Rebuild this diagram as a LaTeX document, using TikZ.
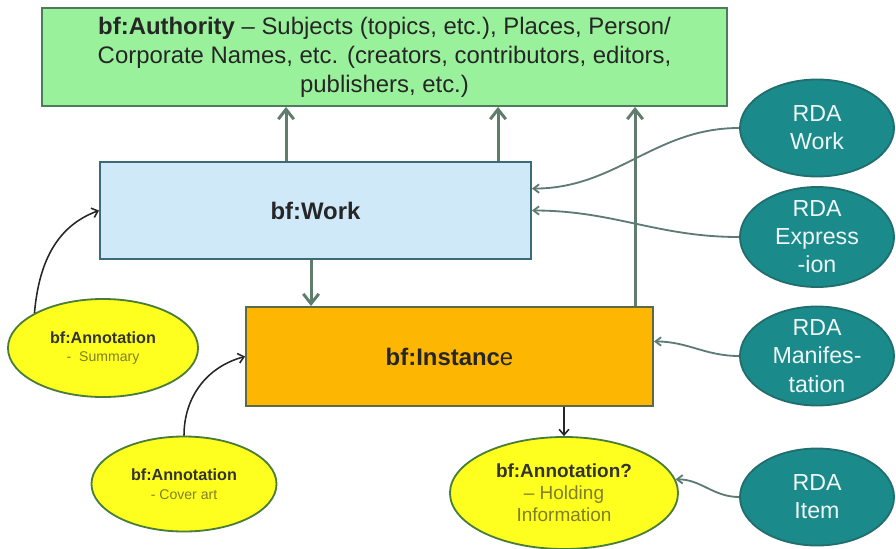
\documentclass[tikz,border=0pt]{standalone}
\usepackage{fontspec}
\setmainfont{Liberation Sans}
\usetikzlibrary{shapes.geometric, arrows.meta}
\definecolor{authgreen}{HTML}{99F29B}
\definecolor{authline}{HTML}{4E7B5C}
\definecolor{workblue}{HTML}{CFE9F9}
\definecolor{workline}{HTML}{3C6B77}
\definecolor{instorange}{HTML}{FDB702}
\definecolor{instline}{HTML}{5A6B45}
\definecolor{noteyellow}{HTML}{FFFF1F}
\definecolor{noteline}{HTML}{4A7D3A}
\definecolor{notetext}{HTML}{7F7F2A}
\definecolor{rdateal}{HTML}{1A8A8A}
\definecolor{rdaline}{HTML}{226E6E}
\definecolor{rdatext}{HTML}{EEF6F6}
\definecolor{linkgray}{HTML}{5F7C6C}
\definecolor{feedgray}{HTML}{5E7A75}
\begin{document}
\begin{tikzpicture}[x = 0.025cm, y = -0.025cm,
        box/.style = {draw = #1, line width = 1.3, inner sep = 0, align = center, text = black!85, font = \fontsize{17}{20.5}\selectfont},
        rda/.style = {ellipse, draw = rdaline, fill = rdateal, line width = 1.3, text = rdatext, minimum width = 3.85cm, inner xsep = 0, inner ysep = -8pt, align = center, font = \fontsize{16.5}{20}\selectfont},
        note/.style = {ellipse, draw = noteline, fill = noteyellow, line width = 1.3, inner sep = 0, align = center, text = black!80},
        link/.style = {draw = linkgray, line width = 2.1, -{Straight Barb[length = 7pt, width = 11pt]}},
        feed/.style = {draw = feedgray, line width = 1.3, -{Straight Barb[length = 4pt, width = 6pt]}},
        ann/.style = {draw = black!85, line width = 1.1, -{Straight Barb[length = 4pt, width = 7pt]}}]
    \useasboundingbox (0, 0) rectangle (896, 548);
    % boxes
    \node [box = authline, fill = authgreen, minimum width = 17.125cm, minimum height = 2.45cm] (auth) at (384.5, 57) {\textbf{bf:Authority} -- Subjects (topics, etc.), Places, Person/\\Corporate Names, etc. (creators, contributors, editors,\\publishers, etc.)};
    \node [box = workline, fill = workblue, minimum width = 10.775cm, minimum height = 2.425cm] (work) at (315.5, 210.5) {\textbf{bf:Work}};
    \node [box = instline, fill = instorange, minimum width = 10.175cm, minimum height = 2.475cm] (inst) at (449.5, 356.5) {\textbf{bf:Instanc}e};
    % rda entities
    \node [rda, minimum height = 2.425cm] (rdawork) at (817, 128) {RDA\\Work};
    \node [rda, minimum height = 2.5cm] (rdaexpr) at (817, 237) {RDA\\Express\\-ion};
    \node [rda, minimum height = 2.475cm] (rdamani) at (817, 356) {RDA\\Manifes-\\tation};
    \node [rda, minimum height = 2.425cm] (rdaitem) at (817, 497) {RDA\\Item};
    % annotations
    \node [note, minimum width = 4.75cm, minimum height = 2.45cm, font = \fontsize{11.5}{13}\selectfont] (summ) at (103, 348) {\textbf{bf:Annotation}\\{\color{notetext}\fontsize{10}{13}\selectfont -\ \ Summary}};
    \node [note, minimum width = 4.625cm, minimum height = 2.375cm, font = \fontsize{11.5}{13.5}\selectfont] (cover) at (184, 484) {\textbf{bf:Annotation}\\{\color{notetext}\fontsize{10}{13.5}\selectfont - Cover art}};
    \node [note, minimum width = 5.7cm, minimum height = 2.8cm, font = \fontsize{13.5}{15.5}\selectfont] (hold) at (564, 493) {\textbf{bf:Annotation?}\\{\color{notetext}-- Holding}\\{\color{notetext}Information}};
    % connectors
    \draw [feed] (rdawork.west) to [out = 180, in = 0] ([yshift = 15.6pt]work.east);
    \draw [feed] (rdaexpr.west) to [out = 180, in = 0] (work.east);
    \draw [feed] (rdamani.west) to [out = 180, in = 0] ([yshift = 10.7pt]inst.east);
    \draw [feed] (rdaitem.west) to [out = 180, in = 0] (hold.7);
    \draw [link] (work.north west) ++(187, 0) coordinate (wa) -- (wa |- auth.south);
    \draw [link] (work.north west) ++(399, 0) coordinate (wb) -- (wb |- auth.south);
    \draw [link] (inst.north west) ++(390, 0) coordinate (ia) -- (ia |- auth.south);
    \draw [link] (work.south west) ++(212, 0) coordinate (wi) -- (wi |- inst.north);
    \draw [ann] (inst.south -| hold.north) -- (hold.north);
    \draw [ann] (summ.153) to [out = 85, in = 200] (work.west);
    \draw [ann] (cover.north) to [out = 90, in = 195] (inst.west);
\end{tikzpicture}
\end{document}
